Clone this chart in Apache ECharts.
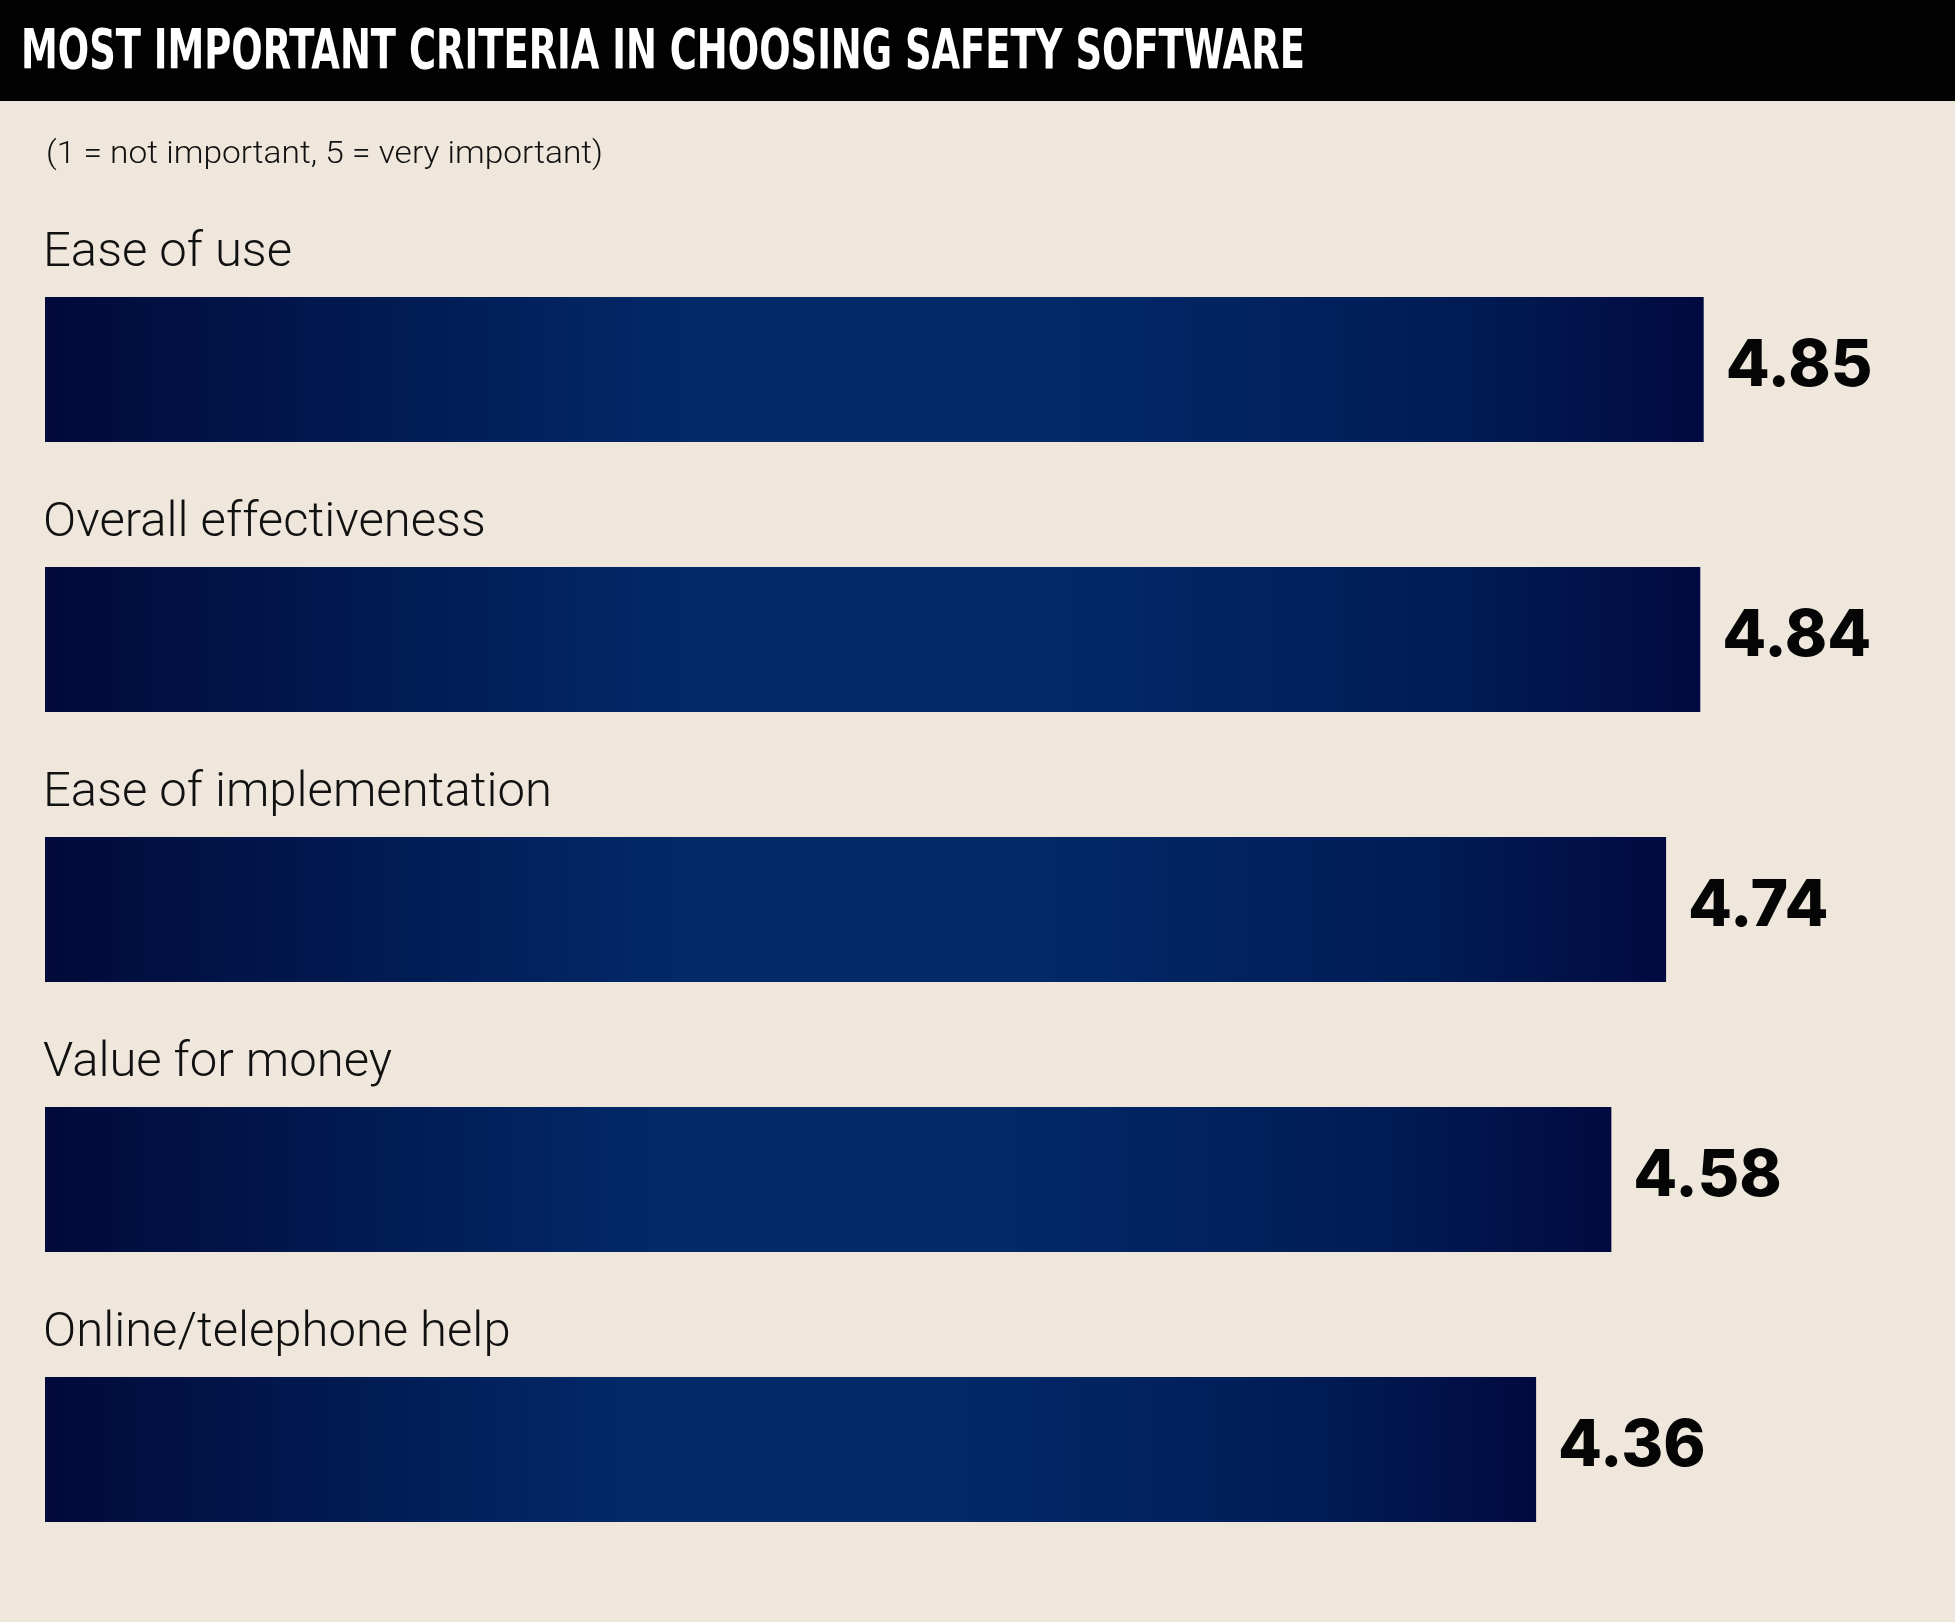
<!DOCTYPE html>
<html>
<head>
<meta charset="utf-8">
<script src="https://cdn.jsdelivr.net/npm/echarts@6/dist/echarts.min.js"></script>
<style>
html,body{margin:0;padding:0;background:#efe7dc;}
#chart{width:1955px;height:1622px;}
</style>
</head>
<body>
<div id="chart"></div>
<script>
const titleText = 'MOST IMPORTANT CRITERIA IN CHOOSING SAFETY SOFTWARE';
const subtitleText = '(1 = not important, 5 = very important)';
const categories = ['Ease of use', 'Overall effectiveness', 'Ease of implementation', 'Value for money', 'Online/telephone help'];
const values = [4.85, 4.84, 4.74, 4.58, 4.36];

const titleFont = 'bold 55px "DejaVu Sans Condensed", sans-serif';
const subFont = '300 31px Roboto, sans-serif';
function fitScale(font, text, target) {
  const ctx = document.createElement('canvas').getContext('2d');
  ctx.font = font;
  return target / ctx.measureText(text).width;
}
const titleScale = fitScale(titleFont, titleText, 1284);
const subScale = fitScale(subFont, subtitleText, 557);

const chart = echarts.init(document.getElementById('chart'), null, {renderer: 'canvas'});

const barGradient = new echarts.graphic.LinearGradient(0, 0, 1, 0, [
  {offset: 0, color: '#010a3a'},
  {offset: 0.4, color: '#022a69'},
  {offset: 0.6, color: '#022a69'},
  {offset: 0.85, color: '#011c55'},
  {offset: 1, color: '#010a40'}
]);

chart.setOption({
  backgroundColor: '#efe7dc',
  animation: false,
  graphic: [{
    type: 'rect',
    z: 0,
    shape: {x: 0, y: 0, width: 1955, height: 101},
    style: {fill: '#020202'}
  }, {
    type: 'text',
    z: 10,
    x: 21, y: 53.5,
    scaleX: titleScale,
    style: {
      text: titleText,
      font: titleFont,
      fill: '#ffffff',
      align: 'left',
      verticalAlign: 'middle'
    }
  }, {
    type: 'text',
    z: 10,
    x: 46, y: 155.5,
    scaleX: subScale,
    style: {
      text: subtitleText,
      font: subFont,
      fill: '#111111',
      align: 'left',
      verticalAlign: 'middle'
    }
  }],
  grid: {left: 45, width: 1710, top: 234.5, height: 1350, containLabel: false},
  xAxis: {
    type: 'value', min: 0, max: 5,
    show: false
  },
  yAxis: {
    type: 'category',
    data: categories,
    inverse: true,
    axisLine: {show: false},
    axisTick: {show: false},
    axisLabel: {
      inside: true,
      margin: -2,
      align: 'left',
      verticalAlign: 'bottom',
      padding: [0, 0, 91, 0],
      color: '#111111',
      fontFamily: 'Roboto, sans-serif',
      fontWeight: 300,
      fontSize: 49,
      lineHeight: 49
    }
  },
  series: [{
    type: 'bar',
    data: values,
    barWidth: 145,
    itemStyle: {color: barGradient},
    label: {
      show: true,
      position: 'right',
      distance: 22,
      offset: [0, -3],
      formatter: p => p.value.toFixed(2),
      color: '#050505',
      fontFamily: 'Inter, Lato, sans-serif',
      fontWeight: 800,
      fontSize: 64
    }
  }]
});
</script>
</body>
</html>
